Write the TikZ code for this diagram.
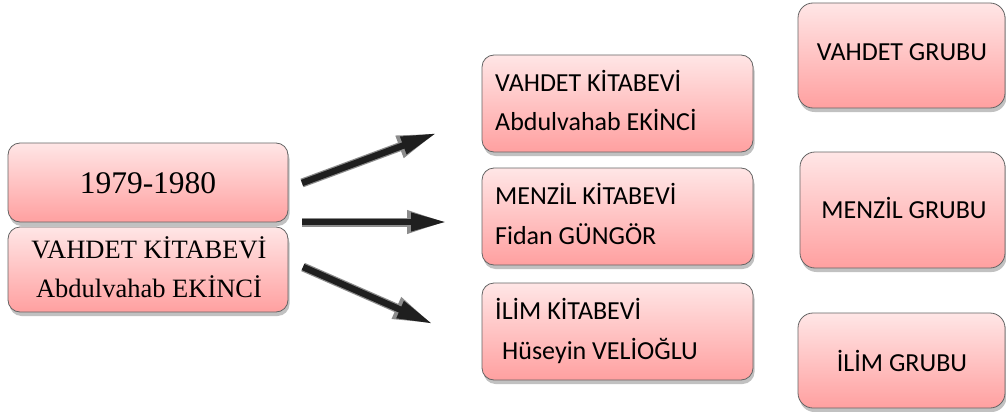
\documentclass[tikz,border=0pt]{standalone}
\usepackage{fontspec}
\setmainfont{Liberation Serif}
\newfontfamily\calibri{Carlito}
\usetikzlibrary{shadows,arrows.meta}
\definecolor{pinktop}{RGB}{255,230,230}
\definecolor{pinkbot}{RGB}{255,160,160}
\definecolor{boxline}{RGB}{100,100,100}
\tikzset{
  pbox/.style={rectangle, rounded corners=12pt, draw=boxline, line width=0.8pt,
    top color=pinktop, bottom color=pinkbot, anchor=north west, outer sep=0pt, inner sep=0pt,
    drop shadow={shadow xshift=1.5pt, shadow yshift=-4pt, opacity=0.35, fill=black!70}},
  serif/.style={inner sep=0pt, anchor=base, font=\fontsize{26.5}{30}\selectfont},
  calw/.style={inner sep=0pt, anchor=base west, font=\calibri\fontsize{26}{30}\selectfont},
  calc/.style={inner sep=0pt, anchor=base, font=\calibri\fontsize{26}{30}\selectfont},
  arrout/.style={line width=9pt, draw=black!45, -{Triangle[length=40pt,width=21pt]}},
  arrin/.style={line width=6.5pt, draw=black!88, -{Triangle[length=36pt,width=17pt]}},
}
\begin{document}
\begin{tikzpicture}[x=1pt,y=1pt]
\useasboundingbox (0,0) rectangle (1006,-412);
% left boxes
\node[pbox, minimum width=280pt, minimum height=79pt] (l1) at (8,-143) {};
\node[serif, font=\fontsize{31.5}{34}\selectfont] (l1t) at (148,-193) {1979-1980};
\node[pbox, minimum width=280pt, minimum height=85pt] (l2) at (8,-227) {};
\node[serif] (l2a) at (149,-258) {VAHDET KİTABEVİ};
\node[serif] (l2b) at (149,-297) {Abdulvahab EKİNCİ};
% middle boxes
\node[pbox, minimum width=271pt, minimum height=97pt] (m1) at (482,-55) {};
\node[calw] (m1a) at (495,-92) {VAHDET KİTABEVİ};
\node[calw] (m1b) at (495,-130) {Abdulvahab EKİNCİ};
\node[pbox, minimum width=271pt, minimum height=97pt] (m2) at (482,-168) {};
\node[calw] (m2a) at (495,-204) {MENZİL KİTABEVİ};
\node[calw] (m2b) at (495,-244) {Fidan GÜNGÖR};
\node[pbox, minimum width=271pt, minimum height=97pt] (m3) at (482,-283) {};
\node[calw] (m3a) at (495,-319) {İLİM KİTABEVİ};
\node[calw] (m3b) at (502,-359) {Hüseyin VELİOĞLU};
% right boxes
\node[pbox, rounded corners=15pt, minimum width=207pt, minimum height=105pt] (r1) at (798,-3) {};
\node[calc] (r1t) at (902,-60) {VAHDET GRUBU};
\node[pbox, rounded corners=15pt, minimum width=205pt, minimum height=116pt] (r2) at (800,-152) {};
\node[calc] (r2t) at (904,-218) {MENZİL GRUBU};
\node[pbox, rounded corners=15pt, minimum width=207pt, minimum height=95pt] (r3) at (798,-313) {};
\node[calc] (r3t) at (902,-371) {İLİM GRUBU};
% arrows
\coordinate (a1s) at (302,-183);
\coordinate (a1e) at (437,-133);
\coordinate (a2s) at (302,-222);
\coordinate (a2e) at (447,-222);
\coordinate (a3s) at (303,-267);
\coordinate (a3e) at (433,-324);
\foreach \s/\e in {a1s/a1e,a2s/a2e,a3s/a3e}{
  \draw[arrout] (\s) -- (\e);
  \draw[arrin] (\s) -- (\e);
}
\end{tikzpicture}
\end{document}
